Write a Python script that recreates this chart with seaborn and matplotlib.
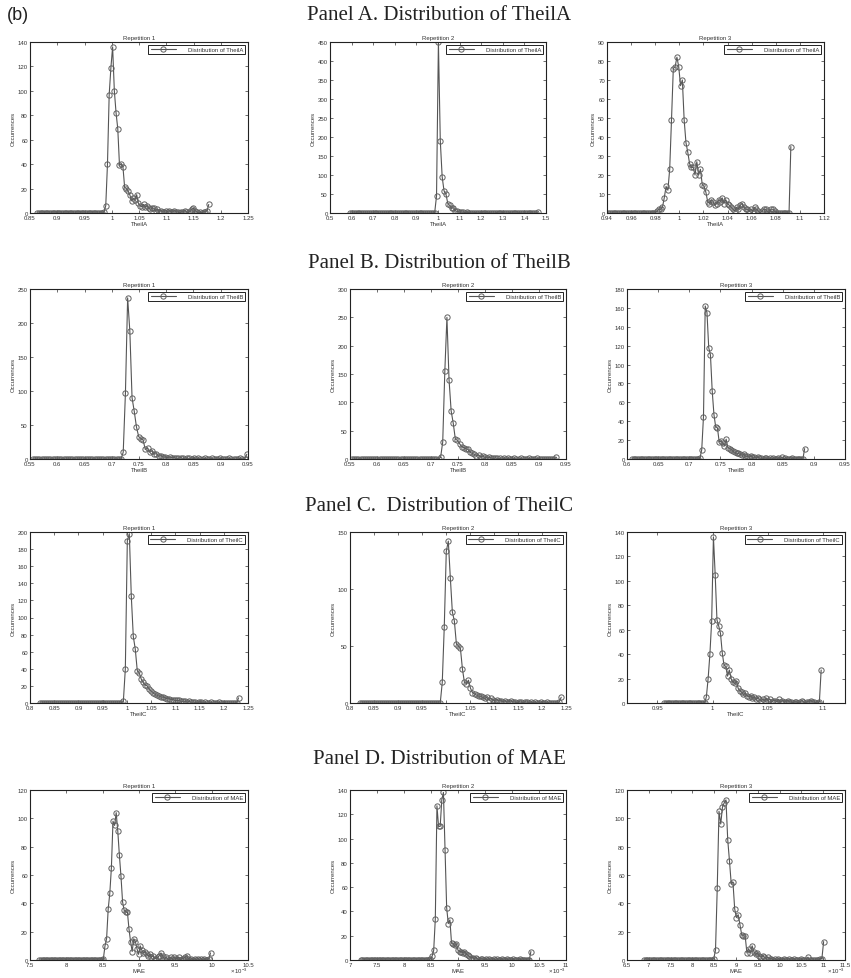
import numpy as np
import pandas as pd
import matplotlib
matplotlib.use("Agg")
import matplotlib.pyplot as plt
import seaborn as sns
from matplotlib.ticker import FixedLocator, FuncFormatter

# ---------------------------------------------------------------------------
# Occurrence counts per bin (bins run from *_START in steps of *_STEP)
# ---------------------------------------------------------------------------
THEILA_R1_START, THEILA_R1_STEP = 0.863, 0.00315
THEILA_R1 = [
    0, 0, 0, 0, 0, 0, 0, 0, 0, 0, 0, 0, 0, 0, 0, 0, 0, 0, 0, 0,
    0, 0, 0, 0, 0, 0, 0, 0, 0, 0, 0, 0, 0, 0, 0, 0, 0, 0, 0,
    1, 6, 40, 97, 119, 136, 100, 82, 69, 39, 40, 38, 21, 20, 18, 15, 10, 12, 11, 15,
    8, 6, 5, 7, 5, 6, 4, 3, 4, 4, 2, 3, 1, 2, 1, 1, 2, 1, 2, 1,
    1, 2, 1, 1, 0, 1, 1, 2, 1, 0, 2, 3, 4, 2, 1, 0, 1, 0, 1, 1, 2, 7,
]

THEILA_R2_START, THEILA_R2_STEP = 0.593, 0.0087
THEILA_R2 = [
    0, 0, 0, 0, 0, 0, 0, 0, 0, 0, 0, 0, 0, 0, 0, 0, 0, 0, 0, 0,
    0, 0, 0, 0, 0, 0, 0, 0, 0, 0, 0, 0, 0, 0, 0, 0, 0, 0, 0, 0,
    0, 0, 0, 0, 0, 0,
    45, 450, 190, 95, 58, 50, 25, 20, 12, 14, 6, 4, 3, 2, 3, 1, 2, 1, 1, 0,
    1, 1, 0, 1, 0, 0, 1, 0, 1, 0, 0, 0, 1, 0, 0, 1, 0, 0, 0, 1,
    0, 0, 0, 0, 1, 0, 0, 0, 0, 0, 1, 0, 0, 0, 3,
]

THEILA_R3_START, THEILA_R3_STEP = 0.941, 0.0015
THEILA_R3 = [
    0, 0, 0, 0, 0, 0, 0, 0, 0, 0, 0, 0, 0, 0, 0, 0, 0, 0, 0, 0,
    0, 0, 0, 0, 0, 0, 0,
    1, 2, 2, 3, 8, 14, 12, 23, 49, 76, 77, 82, 77, 67, 70, 49, 37, 32, 26, 24,
    24, 20, 27, 20, 23, 15, 14, 11, 6, 5, 7, 6, 4, 5, 7, 6, 8, 5, 7, 5,
    4, 3, 2, 1, 3, 2, 4, 5, 3, 2, 2, 1, 2, 1, 3, 2, 1, 0, 1, 2,
    2, 1, 0, 2, 2, 1, 0, 0, 0, 0, 0, 0, 0, 0, 35,
]

THEILB_R1_START, THEILB_R1_STEP = 0.555, 0.00405
THEILB_R1 = [
    0, 0, 0, 0, 0, 0, 0, 0, 0, 0, 0, 0, 0, 0, 0, 0, 0, 0, 0, 0,
    0, 0, 0, 0, 0, 0, 0, 0, 0, 0, 0, 0, 0, 0, 0, 0, 0, 0, 0, 0, 0,
    10, 97, 237, 188, 90, 70, 47, 33, 30, 28, 14, 16, 10, 12, 7, 8, 4, 5, 3, 3,
    2, 3, 2, 2, 1, 1, 2, 1, 0, 1, 1, 0, 1, 0, 1, 0, 0, 1, 0, 0,
    1, 0, 0, 0, 1, 0, 0, 0, 1, 0, 0, 0, 0, 1, 0, 0, 7,
]

THEILB_R2_START, THEILB_R2_STEP = 0.554, 0.0039
THEILB_R2 = [
    0, 0, 0, 0, 0, 0, 0, 0, 0, 0, 0, 0, 0, 0, 0, 0, 0, 0, 0, 0,
    0, 0, 0, 0, 0, 0, 0, 0, 0, 0, 0, 0, 0, 0, 0, 0, 0, 0, 0, 0, 0, 0,
    3, 30, 155, 250, 140, 85, 63, 35, 33, 27, 22, 20, 18, 17, 12, 10, 8, 6, 7, 4,
    5, 3, 2, 3, 2, 1, 2, 1, 1, 0, 1, 0, 1, 0, 0, 1, 0, 0, 1, 0,
    0, 0, 1, 0, 0, 0, 1, 0, 0, 0, 0, 0, 0, 0, 0, 3,
]

THEILB_R3_START, THEILB_R3_STEP = 0.608, 0.0028
THEILB_R3 = [
    0, 0, 0, 0, 0, 0, 0, 0, 0, 0, 0, 0, 0, 0, 0, 0, 0, 0, 0, 0,
    0, 0, 0, 0, 0, 0, 0, 0, 0, 0, 0, 0, 0, 0, 0, 0, 0, 0, 0,
    1, 10, 45, 162, 155, 118, 110, 72, 47, 34, 33, 18, 19, 17, 14, 21, 12, 11, 10, 8,
    7, 6, 6, 5, 4, 5, 3, 3, 2, 3, 2, 2, 1, 2, 1, 1, 0, 1, 1, 0,
    1, 0, 1, 0, 0, 1, 0, 2, 0, 1, 0, 0, 0, 1, 0, 0, 0, 0, 0, 0, 11,
]

THEILC_R1_START, THEILC_R1_STEP = 0.8205, 0.0041
THEILC_R1 = [
    0, 0, 0, 0, 0, 0, 0, 0, 0, 0, 0, 0, 0, 0, 0, 0, 0, 0, 0, 0,
    0, 0, 0, 0, 0, 0, 0, 0, 0, 0, 0, 0, 0, 0, 0, 0, 0, 0, 0, 0, 0, 0,
    2, 40, 190, 198, 125, 78, 63, 38, 35, 28, 24, 21, 20, 16, 14, 12, 10, 9, 8, 7,
    7, 6, 5, 5, 4, 4, 3, 3, 3, 2, 2, 2, 1, 2, 1, 1, 1, 0, 1, 1,
    0, 1, 0, 0, 1, 0, 0, 0, 1, 0, 0, 0, 0, 0, 0, 0, 0, 0, 6,
]

THEILC_R2_START, THEILC_R2_STEP = 0.82, 0.0042
THEILC_R2 = [
    0, 0, 0, 0, 0, 0, 0, 0, 0, 0, 0, 0, 0, 0, 0, 0, 0, 0, 0, 0,
    0, 0, 0, 0, 0, 0, 0, 0, 0, 0, 0, 0, 0, 0, 0, 0, 0, 0, 0, 0, 0,
    18, 67, 133, 142, 110, 80, 72, 52, 50, 48, 30, 18, 17, 20, 13, 9, 8, 7, 6, 6,
    5, 4, 5, 3, 4, 3, 2, 3, 2, 2, 1, 2, 1, 1, 2, 1, 1, 0, 1, 1,
    0, 1, 1, 0, 1, 0, 1, 0, 0, 1, 0, 0, 1, 0, 0, 0, 0, 0, 1, 5,
]

THEILC_R3_START, THEILC_R3_STEP = 0.956, 0.0016
THEILC_R3 = [
    0, 0, 0, 0, 0, 0, 0, 0, 0, 0, 0, 0, 0, 0, 0, 0, 0, 0, 0, 0,
    0, 0, 0, 0,
    5, 20, 40, 67, 136, 105, 68, 63, 57, 41, 31, 30, 22, 27, 20, 17, 16, 18, 12, 10,
    9, 7, 8, 6, 5, 6, 4, 5, 3, 4, 3, 2, 3, 2, 4, 2, 3, 1, 2, 2,
    1, 3, 1, 2, 1, 1, 2, 1, 1, 0, 1, 1, 0, 1, 2, 1, 0, 1, 1, 2,
    1, 1, 0, 0, 1, 27,
]

# MAE bins are in absolute units (axis labelled in units of 1e-3)
MAE_R1_START, MAE_R1_STEP = 7.63e-3, 0.022e-3
MAE_R1 = [
    0, 0, 0, 0, 0, 0, 0, 0, 0, 0, 0, 0, 0, 0, 0, 0, 0, 0, 0, 0,
    0, 0, 0, 0, 0, 0, 0, 0, 0, 0, 0, 0, 0, 0, 0, 0, 0, 0, 0, 0,
    1, 10, 15, 36, 47, 65, 98, 95, 104, 91, 74, 59, 41, 35, 34, 34, 22, 13, 6, 15,
    13, 8, 4, 10, 7, 5, 6, 4, 3, 4, 2, 3, 1, 1, 2, 3, 5, 3, 1, 2,
    1, 0, 2, 1, 2, 1, 1, 2, 0, 1, 1, 2, 3, 1, 0, 1, 0, 1, 0, 1,
    0, 1, 0, 1, 0, 0, 1, 5,
]

MAE_R2_START, MAE_R2_STEP = 7.2e-3, 0.03e-3
MAE_R2 = [
    0, 0, 0, 0, 0, 0, 0, 0, 0, 0, 0, 0, 0, 0, 0, 0, 0, 0, 0, 0,
    0, 0, 0, 0, 0, 0, 0, 0, 0, 0, 0, 0, 0, 0, 0, 0, 0, 0, 0, 0, 0, 0, 0,
    1, 3, 8, 34, 127, 110, 110, 132, 138, 91, 43, 30, 33, 14, 13, 12, 13, 8, 7, 7,
    6, 7, 5, 4, 3, 2, 2, 1, 2, 1, 0, 1, 1, 0, 1, 0, 1, 0, 0, 1,
    0, 1, 0, 0, 1, 0, 0, 1, 0, 0, 0, 1, 0, 0, 0, 1, 0, 0, 0, 0,
    0, 0, 7,
]

MAE_R3_START, MAE_R3_STEP = 6.89e-3, 0.04e-3
MAE_R3 = [
    0, 0, 0, 0, 0, 0, 0, 0, 0, 0, 0, 0, 0, 0, 0, 0, 0, 0, 0, 0,
    0, 0, 0, 0, 0, 0, 0, 0, 0, 0, 0, 0, 0, 0, 0, 0, 0, 0, 0, 0,
    1, 7, 51, 105, 96, 108, 111, 113, 85, 70, 54, 55, 36, 30, 32, 25, 18, 17, 17, 5,
    8, 5, 10, 6, 4, 5, 3, 2, 3, 2, 1, 2, 1, 1, 0, 1, 0, 1, 0, 0,
    1, 0, 0, 1, 0, 0, 1, 0, 0, 0, 1, 0, 0, 0, 2, 0, 0, 0, 0, 0,
    0, 1, 1, 13,
]

# Axis limits and tick positions
XTICKS_A1 = [0.85, 0.9, 0.95, 1, 1.05, 1.1, 1.15, 1.2, 1.25]
XTICKS_A2 = [0.5, 0.6, 0.7, 0.8, 0.9, 1, 1.1, 1.2, 1.3, 1.4, 1.5]
XTICKS_A3 = [0.94, 0.96, 0.98, 1, 1.02, 1.04, 1.06, 1.08, 1.1, 1.12]
XTICKS_B12 = [0.55, 0.6, 0.65, 0.7, 0.75, 0.8, 0.85, 0.9, 0.95]
XTICKS_B3 = [0.6, 0.65, 0.7, 0.75, 0.8, 0.85, 0.9, 0.95]
XTICKS_C12 = [0.8, 0.85, 0.9, 0.95, 1, 1.05, 1.1, 1.15, 1.2, 1.25]
XTICKS_C3 = [0.95, 1, 1.05, 1.1]
XTICKS_D1 = [7.5e-3, 8e-3, 8.5e-3, 9e-3, 9.5e-3, 10e-3, 10.5e-3]
XTICKS_D2 = [7e-3, 7.5e-3, 8e-3, 8.5e-3, 9e-3, 9.5e-3, 10e-3, 10.5e-3, 11e-3]
XTICKS_D3 = [6.5e-3, 7e-3, 7.5e-3, 8e-3, 8.5e-3, 9e-3, 9.5e-3, 10e-3, 10.5e-3, 11e-3, 11.5e-3]

PANEL_TITLES = [
    "Panel A. Distribution of TheilA",
    "Panel B. Distribution of TheilB",
    "Panel C.  Distribution of TheilC",
    "Panel D. Distribution of MAE",
]
METRICS = ["TheilA", "TheilB", "TheilC", "MAE"]

# ---------------------------------------------------------------------------
W, H = 851, 979
sns.set_style("ticks")
plt.rcParams["font.family"] = ["Liberation Sans", "DejaVu Sans"]
plt.rcParams["mathtext.fontset"] = "custom"
plt.rcParams["mathtext.rm"] = "Liberation Sans"

fig = plt.figure(figsize=(W / 100, H / 100), dpi=100)
fig.patch.set_facecolor("white")


def rect(l, t, r, b):
    return [l / W, 1 - b / H, (r - l) / W, (b - t) / H]


ROW_Y = [(43, 214), (290, 460), (533, 704), (791, 961)]
COL_X_TOP = [(30, 248), (330, 546), (607, 824)]
COL_X = [(30, 248), (350, 566), (627, 845)]
TITLE_Y = [15, 263, 507, 760]

series = [
    [(THEILA_R1, THEILA_R1_START, THEILA_R1_STEP, (0.85, 1.25), XTICKS_A1, 140, 20),
     (THEILA_R2, THEILA_R2_START, THEILA_R2_STEP, (0.5, 1.5), XTICKS_A2, 450, 50),
     (THEILA_R3, THEILA_R3_START, THEILA_R3_STEP, (0.94, 1.12), XTICKS_A3, 90, 10)],
    [(THEILB_R1, THEILB_R1_START, THEILB_R1_STEP, (0.55, 0.95), XTICKS_B12, 250, 50),
     (THEILB_R2, THEILB_R2_START, THEILB_R2_STEP, (0.55, 0.95), XTICKS_B12, 300, 50),
     (THEILB_R3, THEILB_R3_START, THEILB_R3_STEP, (0.6, 0.95), XTICKS_B3, 180, 20)],
    [(THEILC_R1, THEILC_R1_START, THEILC_R1_STEP, (0.8, 1.25), XTICKS_C12, 200, 20),
     (THEILC_R2, THEILC_R2_START, THEILC_R2_STEP, (0.8, 1.25), XTICKS_C12, 150, 50),
     (THEILC_R3, THEILC_R3_START, THEILC_R3_STEP, (0.9225, 1.12), XTICKS_C3, 140, 20)],
    [(MAE_R1, MAE_R1_START, MAE_R1_STEP, (7.5e-3, 10.5e-3), XTICKS_D1, 120, 20),
     (MAE_R2, MAE_R2_START, MAE_R2_STEP, (7e-3, 11e-3), XTICKS_D2, 140, 20),
     (MAE_R3, MAE_R3_START, MAE_R3_STEP, (6.5e-3, 11.5e-3), XTICKS_D3, 120, 20)],
]

LINE_C = "#555555"
MARK_C = "#606060"
FS = 4.3

for r, row in enumerate(series):
    metric = METRICS[r]
    top, bot = ROW_Y[r]
    cols = COL_X_TOP if r == 0 else COL_X
    for c, (counts, start, step, xlim, xticks, ymax, ystep) in enumerate(row):
        left, right = cols[c]
        ax = fig.add_axes(rect(left, top, right, bot))
        xs = start + step * np.arange(len(counts))
        df = pd.DataFrame({metric: xs, "Occurrences": counts})
        sns.lineplot(data=df, x=metric, y="Occurrences", ax=ax,
                     color=LINE_C, linewidth=0.8, marker="o", markersize=3.8,
                     markerfacecolor="none", markeredgecolor=MARK_C,
                     markeredgewidth=0.7, label=f"Distribution of {metric}")
        ax.set_xlim(*xlim)
        ax.set_ylim(0, ymax)
        ax.xaxis.set_major_locator(FixedLocator(xticks))
        ax.yaxis.set_major_locator(FixedLocator(list(range(0, ymax + 1, ystep))))
        if metric == "MAE":
            ax.xaxis.set_major_formatter(FuncFormatter(lambda v, p: f"{round(v * 1e3, 6):g}"))
            ax.text(1.0, -0.088, r"$\times\,10^{-3}$", transform=ax.transAxes,
                    ha="right", va="bottom", fontsize=FS, color="#333333")
        else:
            ax.xaxis.set_major_formatter(FuncFormatter(lambda v, p: f"{round(v, 6):g}"))
        ax.tick_params(direction="in", top=True, right=True, length=2.2, width=0.5,
                       labelsize=FS, pad=1.5, colors="#333333")
        for s in ax.spines.values():
            s.set_color("#222222")
            s.set_linewidth(0.8)
        ax.set_title(f"Repetition {c + 1}", fontsize=FS, pad=2.5, color="#333333")
        ax.set_xlabel(metric, fontsize=FS, labelpad=0.8, color="#333333")
        ax.set_ylabel("Occurrences", fontsize=FS, labelpad=1.5, color="#333333")
        leg = ax.legend(loc="upper right", fontsize=FS, frameon=True, fancybox=False,
                        edgecolor="#222222", borderpad=0.35, handlelength=4.2,
                        handletextpad=2.0, borderaxespad=0.5, framealpha=1,
                        numpoints=1)
        leg.get_frame().set_linewidth(0.7)
        for t in leg.get_texts():
            t.set_color("#333333")
    fig.text(439 / W, 1 - TITLE_Y[r] / H, PANEL_TITLES[r], ha="center", va="center",
             fontsize=15, family=["Liberation Serif", "DejaVu Serif"], color="#222222")

fig.text(7 / W, 1 - 16 / H, "(b)", ha="left", va="center", fontsize=13, color="#222222")

fig.savefig("out.png", dpi=100, facecolor="white")
